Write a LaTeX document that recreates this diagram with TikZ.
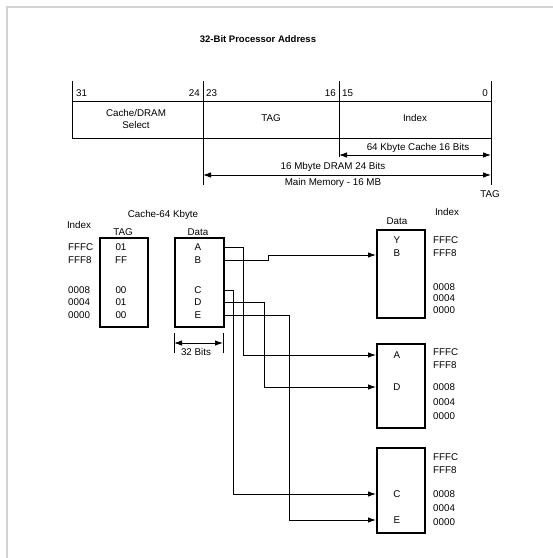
\documentclass[tikz,border=0pt]{standalone}
\usepackage{fontspec}
\setmainfont{Liberation Sans}
\usetikzlibrary{arrows.meta}

\tikzset{
	lbl/.style={font=\fontsize{9.8}{11}\selectfont, inner sep=0pt},
	membox/.style={draw, line width=1.8pt, minimum width=48pt, anchor=north west, inner sep=0pt},
	wire/.style={line width=.9pt, -{Latex[length=8pt,width=5.5pt]}},
	dim/.style={line width=.9pt, {Latex[length=8pt,width=5.5pt]}-{Latex[length=8pt,width=5.5pt]}},
}

\begin{document}
\begin{tikzpicture}[x=1pt, y=-1pt]
			\useasboundingbox (0,0) rectangle (553,558);
			\draw [gray!35, line width=1.2pt] (7,558) to (7,7) to (553,7);
			
			\node [lbl, font=\fontsize{9.5}{11}\selectfont\bfseries] (title) at (258,39){32-Bit Processor Address};
			
			\draw [line width=.9pt] (72,101) to (491,101);
			\draw [line width=.9pt] (72,138) to (491,138);
			\draw [line width=.9pt] (72,81) to (72,138);
			\draw [line width=.9pt] (203,81) to (203,185);
			\draw [line width=.9pt] (339,81) to (339,157);
			\draw [line width=.9pt] (491,81) to (491,185);
			
			\node [lbl, anchor=west] (b31) at (76,93){31};
			\node [lbl, anchor=east] (b24) at (200,93){24};
			\node [lbl, anchor=west] (b23) at (206,93){23};
			\node [lbl, anchor=east] (b16) at (336,93){16};
			\node [lbl, anchor=west] (b15) at (342,93){15};
			\node [lbl, anchor=east] (b0) at (488,93){0};
			
			\node [lbl, align=center] (fSel) at (136,119){Cache/DRAM\\[1pt]Select};
			\node [lbl] (fTag) at (271,118){TAG};
			\node [lbl] (fIdx) at (415,118){Index};
			
			\draw [dim] (339,155) to (491,155);
			\node [lbl] (dCache) at (418,148){64 Kbyte Cache 16 Bits};
			\draw [dim] (203,175) to (491,175);
			\node [lbl] (dDram) at (333,167){16 Mbyte DRAM 24 Bits};
			\node [lbl] (dMain) at (333,183){Main Memory - 16 MB};
			\node [lbl] (tagEnd) at (490,194){TAG};
			
			\node [lbl] (cTitle) at (163,215){Cache-64 Kbyte};
			\node [lbl] (cIdxHd) at (79,225){Index};
			\node [lbl] (cTagHd) at (123,232){TAG};
			\node [lbl] (cDataHd) at (198,232){Data};
			
			\node [membox, minimum height=89pt] (cTag) at (99,237){};
			\node [membox, minimum height=89pt, minimum width=49pt] (cData) at (174,237){};
			
			\node [lbl, anchor=west] (ci1) at (68,247){FFFC};
			\node [lbl, anchor=west] (ci2) at (68,260){FFF8};
			\node [lbl, anchor=west] (ci3) at (68,290){0008};
			\node [lbl, anchor=west] (ci4) at (68,302){0004};
			\node [lbl, anchor=west] (ci5) at (68,315){0000};
			
			\node [lbl] (t1) at (121,247){01};
			\node [lbl] (t2) at (121,260){FF};
			\node [lbl] (t3) at (121,290){00};
			\node [lbl] (t4) at (121,302){01};
			\node [lbl] (t5) at (121,315){00};
			
			\node [lbl] (dA) at (198,247){A};
			\node [lbl] (dB) at (198,260){B};
			\node [lbl] (dC) at (198,290){C};
			\node [lbl] (dD) at (198,302){D};
			\node [lbl] (dE) at (198,315){E};
			
			\draw [line width=.9pt] (174,333) to (174,353);
			\draw [line width=.9pt] (223,333) to (223,353);
			\draw [dim] (174,343) to (223,343);
			\node [lbl] (wBits) at (196,352){32 Bits};
			
			\node [lbl] (mIdxHd) at (447,212){Index};
			\node [lbl] (mDataHd) at (397,221){Data};
			
			\node [membox, minimum height=88pt] (mem1) at (376,229){};
			\node [membox, minimum height=84pt] (mem2) at (376,343){};
			\node [membox, minimum height=85pt] (mem3) at (376,447){};
			
			\node [lbl] (m1Y) at (397,240){Y};
			\node [lbl] (m1B) at (397,253){B};
			\node [lbl] (m2A) at (397,355){A};
			\node [lbl] (m2D) at (397,387){D};
			\node [lbl] (m3C) at (397,494){C};
			\node [lbl] (m3E) at (397,520){E};
			
			\foreach \y/\t in {240/FFFC, 253/FFF8, 287/0008, 298/0004, 310/0000,
				352/FFFC, 365/FFF8, 387/0008, 402/0004, 416/0000,
				457/FFFC, 470/FFF8, 494/0008, 508/0004, 522/0000}
				\node [lbl, anchor=west] (mi\y) at (433,\y){\t};
			
			\draw [wire] (dA -| cData.east) -- ++(19,0) |- (m2A -| mem2.west);
			\draw [wire] (dB -| cData.east) -- ++(44,0) |- ([yshift=-2pt]m1B -| mem1.west);
			\draw [wire] (dC -| cData.east) -- ++(9,0) |- (m3C -| mem3.west);
			\draw [wire] (dD -| cData.east) -- ++(40,0) |- (m2D -| mem2.west);
			\draw [wire] (dE -| cData.east) -- ++(65,0) |- (m3E -| mem3.west);
\end{tikzpicture}
\end{document}
